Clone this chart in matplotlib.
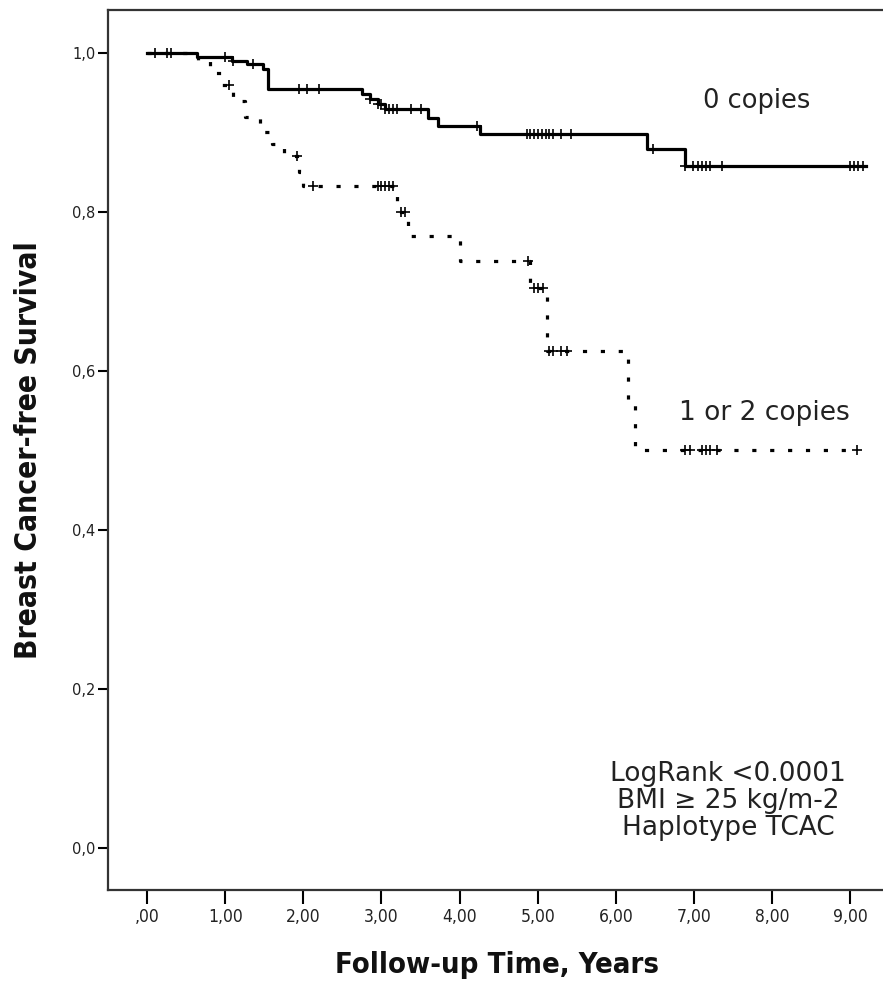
import numpy as np
import matplotlib
matplotlib.use("Agg")
import matplotlib.pyplot as plt

# Kaplan-Meier steps
t0 = [0, 0.64, 1.09, 1.28, 1.49, 1.55, 2.75, 2.85, 2.95, 3.05, 3.6, 3.73, 4.26, 6.4, 6.89, 9.2]
s0 = [1.0, 0.995, 0.99, 0.986, 0.98, 0.954, 0.948, 0.942, 0.936, 0.93, 0.918, 0.908, 0.898, 0.879, 0.858, 0.858]
cens0 = [0.1, 0.25, 0.3, 1.0, 1.1, 1.35, 1.95, 2.05, 2.2, 2.85, 2.95, 3.0, 3.05, 3.1,
         3.15, 3.2, 3.38, 3.5, 4.22, 4.86, 4.9, 4.95, 5.0, 5.05, 5.1, 5.15, 5.2, 5.3,
         5.42, 6.48, 6.89, 6.99, 7.05, 7.1, 7.15, 7.2, 7.36, 9.0, 9.05, 9.1, 9.17]

t1 = [0, 0.65, 0.8, 0.95, 1.1, 1.25, 1.45, 1.6, 1.75, 1.95, 2.0, 3.2, 3.34, 4.0, 4.9,
      5.12, 6.15, 6.25, 9.1]
s1 = [1.0, 0.99, 0.975, 0.96, 0.94, 0.92, 0.9, 0.885, 0.87, 0.85, 0.833, 0.80, 0.77,
      0.738, 0.704, 0.625, 0.56, 0.5, 0.5]
cens1 = [1.05, 1.92, 2.12, 2.96, 3.0, 3.05, 3.1, 3.15, 3.25, 3.3, 4.87, 4.95, 5.0,
         5.07, 5.15, 5.2, 5.3, 5.38, 6.89, 6.95, 7.1, 7.15, 7.2, 7.3, 9.09]

xticks = np.arange(0, 10)
xticklabels = [",00"] + [f"{i},00" for i in range(1, 10)]
yticks = [0.0, 0.2, 0.4, 0.6, 0.8, 1.0]
yticklabels = ["0,0", "0,2", "0,4", "0,6", "0,8", "1,0"]


def surv_at(times, surv, x):
    idx = np.searchsorted(times, x, side="right") - 1
    return np.asarray(surv)[idx]


W, H = 883, 982
fig = plt.figure(figsize=(W / 100, H / 100), dpi=100)
ax = fig.add_axes([108 / W, 1 - 890 / H, 1 - 108 / W, 880 / H])

ax.step(t0, s0, where="post", color="black", lw=2.3)
ax.plot(cens0, surv_at(t0, s0, cens0), "+", color="black", ms=7.5, mew=1.2)

ax.step(t1, s1, where="post", color="black", lw=2.3,
        linestyle=(0, (1.3, 4.3)), dash_capstyle="butt")
ax.plot(cens1, surv_at(t1, s1, cens1), "+", color="black", ms=7.5, mew=1.2)

ax.set_xlim(-0.5, 9.42)
ax.set_ylim(-0.053, 1.054)

ax.set_xticks(xticks)
ax.set_xticklabels(xticklabels, fontsize=12.5, fontstretch="condensed", color="#222222")
ax.set_yticks(yticks)
ax.set_yticklabels(yticklabels, fontsize=10.5, color="#222222")
ax.tick_params(axis="x", length=10, width=1.5, pad=3)
ax.tick_params(axis="y", length=7, width=1.5, pad=2)

for side in ["left", "bottom", "top"]:
    ax.spines[side].set_linewidth(1.6)
    ax.spines[side].set_color("#333333")
ax.spines["right"].set_visible(False)

ax.set_xlabel("Follow-up Time, Years", fontsize=21, fontweight="bold",
              fontstretch="condensed", color="#111111")
ax.xaxis.set_label_coords(0.502, -0.069)
ax.set_ylabel("Breast Cancer-free Survival", fontsize=21.5, fontweight="bold",
              fontstretch="condensed", color="#111111")
ax.yaxis.set_label_coords(-0.084, 0.5, transform=ax.transAxes)

ax.text(7.8, 0.94, "0 copies", fontsize=18.5, ha="center", va="center", color="#222222")
ax.text(7.9, 0.547, "1 or 2 copies", fontsize=19, ha="center", va="center", color="#222222")
ax.text(7.44, 0.059, "LogRank <0.0001\nBMI \u2265 25 kg/m-2\nHaplotype TCAC",
        fontsize=19, ha="center", va="center", color="#222222", linespacing=1.05)

fig.savefig("out.png", dpi=100)
